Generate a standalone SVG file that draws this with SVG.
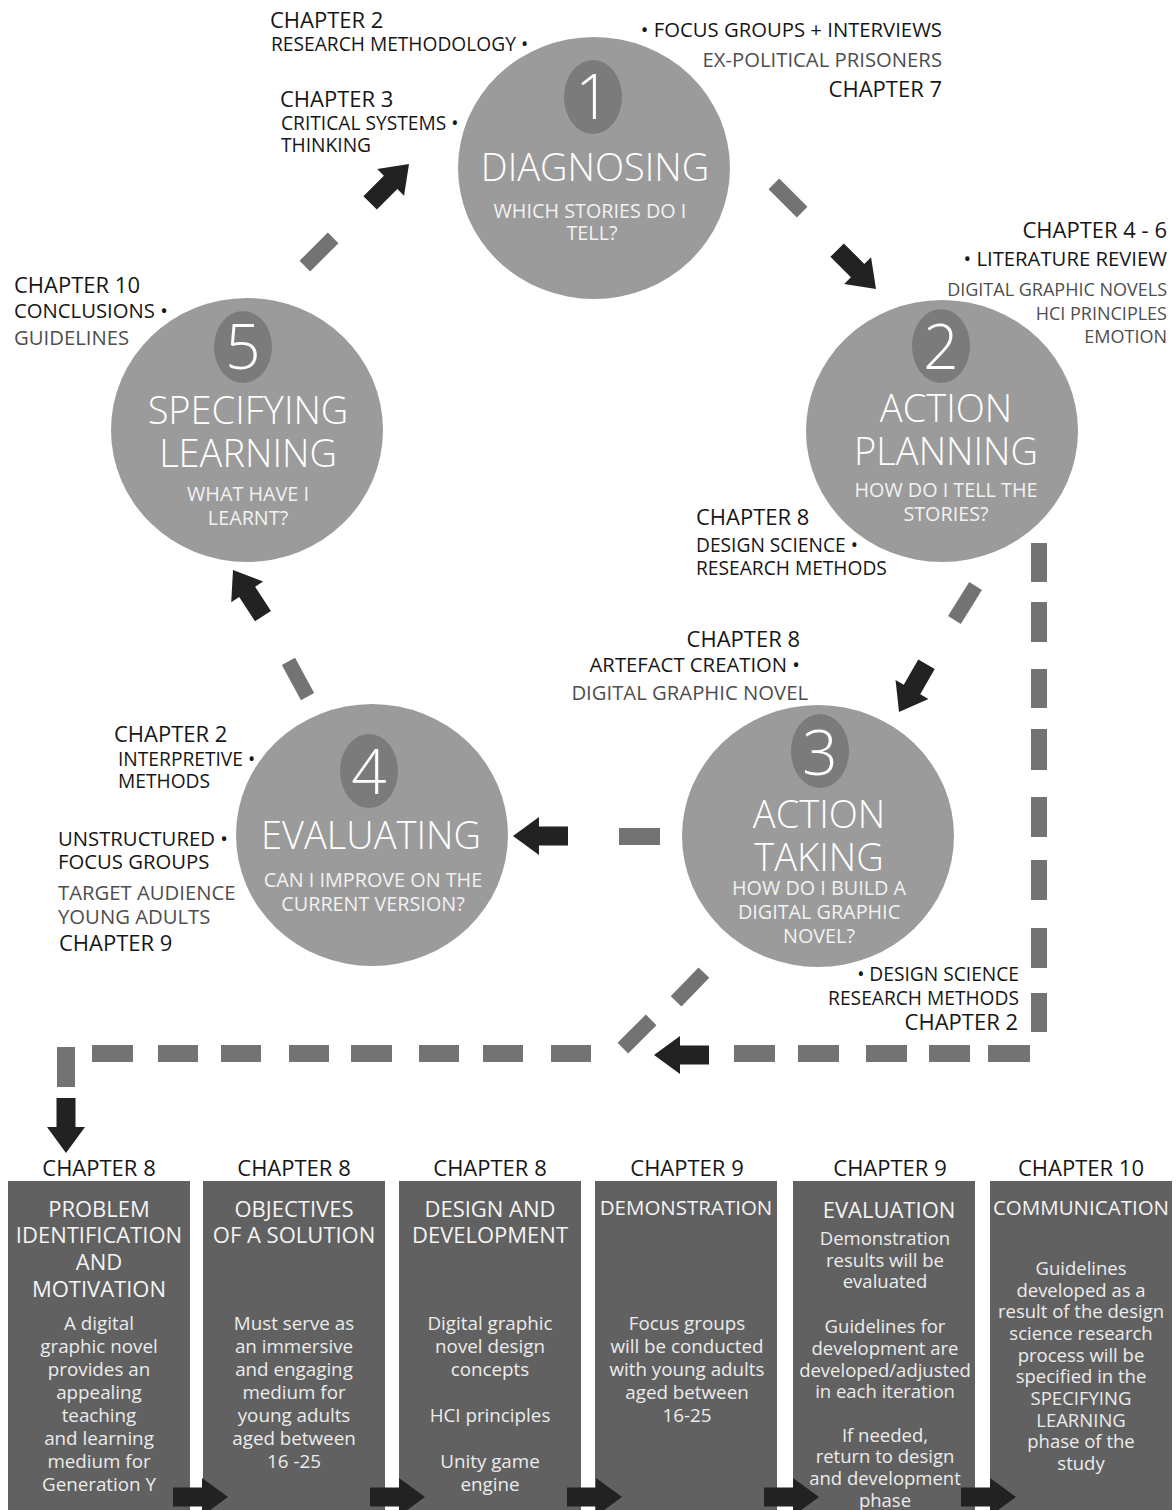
<svg xmlns="http://www.w3.org/2000/svg" xmlns:xlink="http://www.w3.org/1999/xlink" width="1176" height="1510" viewBox="0 0 1176 1510">
<style>
text{font-family:"Open Sans","Liberation Sans",sans-serif}
.ann{font-size:19.2px;fill:#161616}
.big{font-size:20.3px}
.sm{font-size:18px}
.ch{font-size:22px;fill:#161616}
.gr{fill:#4e4e4e}
.end{text-anchor:end}
.circ{fill:#9b9b9b}
.oval{fill:#7b7b7b}
.num{font-size:62px;font-weight:300;fill:#fff;text-anchor:middle}
.ct{font-size:38px;font-weight:300;fill:#fff;text-anchor:middle}
.cs{font-size:19.8px;fill:#f2f2f2;text-anchor:middle}
.box{fill:#616161}
.bc{font-size:22px;fill:#161616;text-anchor:middle}
.bt{font-size:22px;fill:#f4f4f4;text-anchor:middle}
.bb{font-size:18.8px;fill:#ececec;text-anchor:middle}
.bs{font-size:18.5px}
.d{fill:#737373}
.a{fill:#222}
</style>
<defs>
<path id="arr" d="M-55,-9.5 L-26,-9.5 L-26,-19 L0,0 L-26,19 L-26,9.5 L-55,9.5 Z"/>
<rect id="dash" x="-20" y="-7.5" width="40" height="15"/>
</defs>
<rect width="1176" height="1510" fill="#fff"/>

<g id="connectors">
<use href="#dash" class="d" transform="translate(319,252) rotate(-45)"/>
<use href="#dash" class="d" transform="translate(788,198) rotate(45)"/>
<use href="#dash" class="d" transform="translate(965,603) rotate(122)"/>
<rect class="d" x="619" y="828" width="41" height="17"/>
<use href="#dash" class="d" transform="translate(298,679) rotate(61.5)"/>
<use href="#arr" class="a" transform="translate(409,164) rotate(-45)"/>
<use href="#arr" class="a" transform="translate(876,289) rotate(45)"/>
<use href="#arr" class="a" transform="translate(899,712) rotate(120)"/>
<use href="#arr" class="a" transform="translate(513,836) rotate(180)"/>
<use href="#arr" class="a" transform="translate(233,570) rotate(-123)"/>
<g class="d">
<rect x="1031" y="543" width="16" height="39"/>
<rect x="1031" y="602" width="16" height="40"/>
<rect x="1031" y="669" width="16" height="39"/>
<rect x="1031" y="729" width="16" height="41"/>
<rect x="1031" y="797" width="16" height="40"/>
<rect x="1031" y="860" width="16" height="40"/>
<rect x="1031" y="928" width="16" height="40"/>
<rect x="1031" y="993" width="16" height="39"/>
<rect x="988" y="1045" width="42" height="17"/>
<rect x="929" y="1045" width="41" height="17"/>
<rect x="866" y="1045" width="41" height="17"/>
<rect x="798" y="1045" width="41" height="17"/>
<rect x="734" y="1045" width="41" height="17"/>
<rect x="551" y="1045" width="40" height="17"/>
<rect x="483" y="1045" width="40" height="17"/>
<rect x="419" y="1045" width="40" height="17"/>
<rect x="351" y="1045" width="41" height="17"/>
<rect x="289" y="1045" width="40" height="17"/>
<rect x="221" y="1045" width="40" height="17"/>
<rect x="158" y="1045" width="40" height="17"/>
<rect x="92" y="1045" width="41" height="17"/>
<rect x="57" y="1047" width="18" height="40"/>
</g>
<use href="#dash" class="d" transform="translate(690,987) rotate(-46)"/>
<use href="#dash" class="d" transform="translate(637,1034) rotate(-45)"/>
<use href="#arr" class="a" transform="translate(654,1055) rotate(180)"/>
<use href="#arr" class="a" transform="translate(66,1153) rotate(90)"/>
</g>

<g id="node1">
<ellipse class="circ" cx="594" cy="168" rx="136" ry="131"/>
<ellipse class="oval" cx="593" cy="97" rx="29" ry="37"/>
<text class="num" x="593" y="119">1</text>
<text class="ct" x="595" y="181">DIAGNOSING</text>
<text class="cs" x="590" y="218">WHICH STORIES DO I</text>
<text class="cs" x="592" y="240">TELL?</text>
</g>
<g id="node2">
<ellipse class="circ" cx="942" cy="431" rx="136" ry="131"/>
<ellipse class="oval" cx="941" cy="346" rx="29" ry="37"/>
<text class="num" x="941" y="369">2</text>
<text class="ct" x="946" y="422">ACTION</text>
<text class="ct" x="946" y="465">PLANNING</text>
<text class="cs" x="946" y="497">HOW DO I TELL THE</text>
<text class="cs" x="946" y="521">STORIES?</text>
</g>
<g id="node3">
<ellipse class="circ" cx="818" cy="836" rx="136" ry="131"/>
<ellipse class="oval" cx="820" cy="751" rx="29" ry="37"/>
<text class="num" x="820" y="775">3</text>
<text class="ct" x="819" y="828">ACTION</text>
<text class="ct" x="819" y="871">TAKING</text>
<text class="cs" x="819" y="895">HOW DO I BUILD A</text>
<text class="cs" x="819" y="919">DIGITAL GRAPHIC</text>
<text class="cs" x="819" y="943">NOVEL?</text>
</g>
<g id="node4">
<ellipse class="circ" cx="372" cy="835" rx="136" ry="131"/>
<ellipse class="oval" cx="369" cy="771" rx="29" ry="37"/>
<text class="num" x="369" y="794">4</text>
<text class="ct" x="371" y="849">EVALUATING</text>
<text class="cs" x="373" y="887">CAN I IMPROVE ON THE</text>
<text class="cs" x="373" y="911">CURRENT VERSION?</text>
</g>
<g id="node5">
<ellipse class="circ" cx="247" cy="430" rx="136" ry="132"/>
<ellipse class="oval" cx="243" cy="347" rx="29" ry="36"/>
<text class="num" x="243" y="369">5</text>
<text class="ct" x="248" y="424">SPECIFYING</text>
<text class="ct" x="248" y="467">LEARNING</text>
<text class="cs" x="248" y="501">WHAT HAVE I</text>
<text class="cs" x="248" y="525">LEARNT?</text>
</g>

<g id="annotations">
<text class="ch" x="270" y="28">CHAPTER 2</text>
<text class="ann" x="271" y="51">RESEARCH METHODOLOGY •</text>
<text class="ch" x="280" y="107">CHAPTER 3</text>
<text class="ann" x="281" y="130">CRITICAL SYSTEMS •</text>
<text class="ann" x="281" y="152">THINKING</text>

<text class="ann big end" x="942" y="37">• FOCUS GROUPS + INTERVIEWS</text>
<text class="ann big gr end" x="942" y="67">EX-POLITICAL PRISONERS</text>
<text class="ch end" x="942" y="97">CHAPTER 7</text>

<text class="ch end" x="1167" y="238">CHAPTER 4 - 6</text>
<text class="ann big end" x="1167" y="266">• LITERATURE REVIEW</text>
<text class="ann sm gr end" x="1167" y="296">DIGITAL GRAPHIC NOVELS</text>
<text class="ann sm gr end" x="1167" y="320">HCI PRINCIPLES</text>
<text class="ann sm gr end" x="1167" y="343">EMOTION</text>

<text class="ch" x="14" y="293">CHAPTER 10</text>
<text class="ann big" x="14" y="318">CONCLUSIONS •</text>
<text class="ann big gr" x="14" y="345">GUIDELINES</text>

<text class="ch" x="696" y="525">CHAPTER 8</text>
<text class="ann" x="696" y="552">DESIGN SCIENCE •</text>
<text class="ann" x="696" y="575">RESEARCH METHODS</text>

<text class="ch end" x="800" y="647">CHAPTER 8</text>
<text class="ann big end" x="800" y="672">ARTEFACT CREATION •</text>
<text class="ann big gr end" x="808" y="700">DIGITAL GRAPHIC NOVEL</text>

<text class="ch" x="114" y="742">CHAPTER 2</text>
<text class="ann" x="118" y="766">INTERPRETIVE •</text>
<text class="ann" x="118" y="788">METHODS</text>
<text class="ann big" x="58" y="846">UNSTRUCTURED •</text>
<text class="ann big" x="58" y="869">FOCUS GROUPS</text>
<text class="ann big gr" x="58" y="900">TARGET AUDIENCE</text>
<text class="ann big gr" x="58" y="924">YOUNG ADULTS</text>
<text class="ch" x="59" y="951">CHAPTER 9</text>

<text class="ann end" x="1019" y="981">• DESIGN SCIENCE</text>
<text class="ann end" x="1019" y="1005">RESEARCH METHODS</text>
<text class="ch end" x="1018" y="1030">CHAPTER 2</text>
</g>

<g id="step1">
<text class="bc" x="99" y="1176">CHAPTER 8</text>
<rect class="box" x="8" y="1181" width="182" height="329"/>
<text class="bt" x="99" y="1217">PROBLEM</text>
<text class="bt" x="99" y="1243">IDENTIFICATION</text>
<text class="bt" x="99" y="1270">AND</text>
<text class="bt" x="99" y="1297">MOTIVATION</text>
<text class="bb" x="99" y="1330">A digital</text>
<text class="bb" x="99" y="1353">graphic novel</text>
<text class="bb" x="99" y="1376">provides an</text>
<text class="bb" x="99" y="1399">appealing</text>
<text class="bb" x="99" y="1422">teaching</text>
<text class="bb" x="99" y="1445">and learning</text>
<text class="bb" x="99" y="1468">medium for</text>
<text class="bb" x="99" y="1491">Generation Y</text>
</g>
<g id="step2">
<text class="bc" x="294" y="1176">CHAPTER 8</text>
<rect class="box" x="203" y="1181" width="182" height="329"/>
<text class="bt" x="294" y="1217">OBJECTIVES</text>
<text class="bt" x="294" y="1243">OF A SOLUTION</text>
<text class="bb" x="294" y="1330">Must serve as</text>
<text class="bb" x="294" y="1353">an immersive</text>
<text class="bb" x="294" y="1376">and engaging</text>
<text class="bb" x="294" y="1399">medium for</text>
<text class="bb" x="294" y="1422">young adults</text>
<text class="bb" x="294" y="1445">aged between</text>
<text class="bb" x="294" y="1468">16 -25</text>
</g>
<g id="step3">
<text class="bc" x="490" y="1176">CHAPTER 8</text>
<rect class="box" x="399" y="1181" width="182" height="329"/>
<text class="bt" x="490" y="1217">DESIGN AND</text>
<text class="bt" x="490" y="1243">DEVELOPMENT</text>
<text class="bb" x="490" y="1330">Digital graphic</text>
<text class="bb" x="490" y="1353">novel design</text>
<text class="bb" x="490" y="1376">concepts</text>
<text class="bb" x="490" y="1422">HCI principles</text>
<text class="bb" x="490" y="1468">Unity game</text>
<text class="bb" x="490" y="1491">engine</text>
</g>
<g id="step4">
<text class="bc" x="687" y="1176">CHAPTER 9</text>
<rect class="box" x="595" y="1181" width="182" height="329"/>
<text class="bt" x="686" y="1215" style="font-size:20.5px">DEMONSTRATION</text>
<text class="bb" x="687" y="1330">Focus groups</text>
<text class="bb" x="687" y="1353">will be conducted</text>
<text class="bb" x="687" y="1376">with young adults</text>
<text class="bb" x="687" y="1399">aged between</text>
<text class="bb" x="687" y="1422">16-25</text>
</g>
<g id="step5">
<text class="bc" x="890" y="1176">CHAPTER 9</text>
<rect class="box" x="793" y="1181" width="182" height="329"/>
<text class="bt" x="889" y="1218">EVALUATION</text>
<text class="bb bs" x="885" y="1245">Demonstration</text>
<text class="bb bs" x="885" y="1267">results will be</text>
<text class="bb bs" x="885" y="1288">evaluated</text>
<text class="bb bs" x="885" y="1333">Guidelines for</text>
<text class="bb bs" x="885" y="1355">development are</text>
<text class="bb bs" x="885" y="1377">developed/adjusted</text>
<text class="bb bs" x="885" y="1398">in each iteration</text>
<text class="bb bs" x="885" y="1442">If needed,</text>
<text class="bb bs" x="885" y="1463">return to design</text>
<text class="bb bs" x="885" y="1485">and development</text>
<text class="bb bs" x="885" y="1507">phase</text>
</g>
<g id="step6">
<text class="bc" x="1081" y="1176">CHAPTER 10</text>
<rect class="box" x="990" y="1181" width="182" height="329"/>
<text class="bt" x="1081" y="1215" style="font-size:20.5px">COMMUNICATION</text>
<text class="bb bs" x="1081" y="1275">Guidelines</text>
<text class="bb bs" x="1081" y="1297">developed as a</text>
<text class="bb bs" x="1081" y="1318">result of the design</text>
<text class="bb bs" x="1081" y="1340">science research</text>
<text class="bb bs" x="1081" y="1362">process will be</text>
<text class="bb bs" x="1081" y="1383">specified in the</text>
<text class="bb bs" x="1081" y="1405">SPECIFYING</text>
<text class="bb bs" x="1081" y="1427">LEARNING</text>
<text class="bb bs" x="1081" y="1448">phase of the</text>
<text class="bb bs" x="1081" y="1470">study</text>
</g>
<g id="step-arrows">
<use href="#arr" class="a" transform="translate(228,1497)"/>
<use href="#arr" class="a" transform="translate(425,1497)"/>
<use href="#arr" class="a" transform="translate(622,1497)"/>
<use href="#arr" class="a" transform="translate(819,1497)"/>
<use href="#arr" class="a" transform="translate(1016,1497)"/>
</g>
</svg>
